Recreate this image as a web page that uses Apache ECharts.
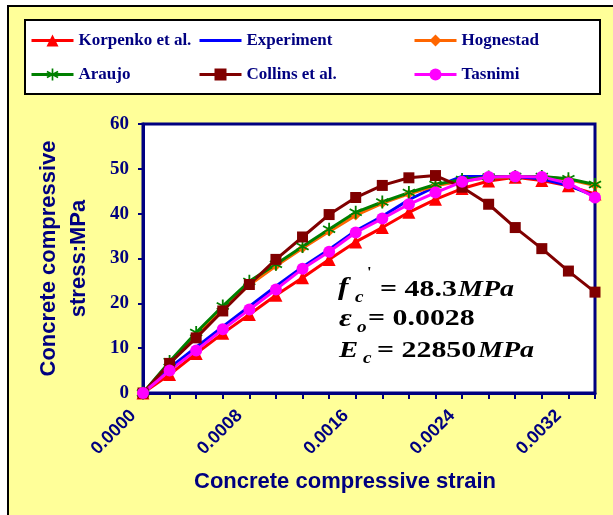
<!DOCTYPE html>
<html>
<head>
<meta charset="utf-8">
<script src="https://cdn.jsdelivr.net/npm/echarts@6/dist/echarts.min.js"></script>
<style>
  html, body { margin: 0; padding: 0; background: #fff; }
  #chart { width: 613px; height: 515px; }
</style>
</head>
<body>
<div id="chart"></div>
<script>
// Strain steps (x) shared by every model curve
const strain = [0, 0.0002, 0.0004, 0.0006, 0.0008, 0.0010, 0.0012, 0.0014, 0.0016,
                0.0018, 0.0020, 0.0022, 0.0024, 0.0026, 0.0028, 0.0030, 0.0032, 0.0034];

// Stress (MPa) for each model
const korpenko   = [0, 4.1, 8.8, 13.3, 17.5, 21.8, 25.7, 29.8, 33.7, 36.9, 40.3, 43.2, 45.6, 47.3, 48.1, 47.4, 46.2, 44.4];
const experiment = [0, 5.6, 10.2, 14.8, 19.3, 23.8, 28.1, 32.0, 36.2, 39.4, 43.1, 46.0, 48.3, 48.3, 48.3, 47.8, 46.3, 43.9];
const hognestad  = [0, 6.6, 12.9, 18.7, 24.1, 28.3, 32.3, 36.0, 39.6, 42.3, 44.4, 46.2, 47.3, 48.0, 48.3, 48.3, 47.6, 46.3];
const araujo     = [0, 7.0, 13.5, 19.4, 24.9, 28.7, 32.7, 36.5, 40.3, 42.6, 44.7, 46.5, 47.6, 48.2, 48.3, 48.3, 47.8, 46.5];
const collins    = [0, 6.6, 12.3, 18.3, 24.2, 29.8, 34.8, 39.8, 43.6, 46.3, 48.0, 48.5, 45.9, 42.1, 36.9, 32.2, 27.2, 22.5];
const tasnimi    = [0, 5.0, 9.5, 14.2, 18.6, 23.1, 27.7, 31.5, 35.8, 38.9, 42.1, 44.7, 47.1, 48.2, 48.3, 48.2, 46.8, 43.6];

// Axis settings
const xMin = 0, xMax = 0.0034, xStep = 0.0002, xLabelStep = 0.0008;
const yMin = 0, yMax = 60, yStep = 10;

const NAVY = '#000080';
const SERIF = '"Liberation Serif", "Times New Roman", serif';
const SANS = '"Liberation Sans", Arial, sans-serif';

const asterisk = 'path://M-1.3,-10L1.3,-10L1.3,10L-1.3,10Z' +
  'M-9.31,-3.87L-8.01,-6.13L9.31,3.87L8.01,6.13Z' +
  'M8.01,-6.13L9.31,-3.87L-8.01,6.13L-9.31,3.87Z';

function pairs(ys) { return strain.map((x, i) => [x, ys[i]]); }

function lineSeries(name, ys, color, symbol, size) {
  return {
    name: name,
    type: 'line',
    data: pairs(ys),
    symbol: symbol,
    symbolSize: size,
    showSymbol: symbol !== 'none',
    lineStyle: { color: color, width: 3 },
    itemStyle: { color: color },
    emphasis: { disabled: true },
    animation: false
  };
}

const chart = echarts.init(document.getElementById('chart'), null, { renderer: 'canvas' });

const legendText = { fontFamily: SERIF, fontWeight: 'bold', fontSize: 17, color: NAVY };
function legendItem(name) {
  if (name === 'Experiment') {
    return { name: name, itemStyle: { color: 'rgba(0,0,0,0)', borderWidth: 0 } };
  }
  return { name: name };
}
function legendCol(left, names) {
  return {
    orient: 'vertical', left: left, top: 32, itemGap: 17, padding: 0,
    itemWidth: 42, itemHeight: 15,
    lineStyle: { width: 3 },
    textStyle: legendText, data: names.map(legendItem), selectedMode: false
  };
}

// Equation pieces shown inside the plot
function eq(text, x, y, size, italic, sx) {
  return {
    type: 'text', x: x, y: y, scaleX: sx || 1.3, z: 10,
    style: {
      text: text, fill: '#000', align: 'left', verticalAlign: 'middle',
      fontFamily: SERIF, fontWeight: 'bold', fontStyle: italic ? 'italic' : 'normal', fontSize: size
    }
  };
}

chart.setOption({
  backgroundColor: '#ffffff',
  animation: false,
  graphic: [
    { type: 'rect', z: -10, shape: { x: 8, y: 6, width: 640, height: 540 },
      style: { fill: '#FFFF99', stroke: '#000', lineWidth: 2 } },
    { type: 'rect', z: -9, shape: { x: 25, y: 20, width: 575, height: 74 },
      style: { fill: '#fff', stroke: '#000', lineWidth: 2 } },
    eq('f', 338, 289, 25, true, 1.25),
    eq('c', 355, 298, 16, true, 1.2),
    eq('\'', 367, 273, 14, false, 1.2),
    eq('= 48.3', 380, 290, 23, false),
    eq('MPa', 458, 290, 23, true, 1.22),
    eq('\u03b5', 339, 320, 25, true, 1.25),
    eq('o', 357, 328, 16, true, 1.2),
    eq('= 0.0028', 368, 319, 23, false),
    eq('E', 339, 351, 23, true, 1.25),
    eq('c', 363, 359, 16, true, 1.2),
    eq('= 22850', 377, 351, 23, false),
    eq('MPa', 478, 351, 23, true, 1.22)
  ],
  legend: [
    legendCol(30, ['Korpenko et al.', 'Araujo']),
    legendCol(198, ['Experiment', 'Collins et al.']),
    legendCol(413, ['Hognestad', 'Tasnimi'])
  ],
  grid: {
    left: 143, right: 18, top: 124, bottom: 122,
    show: true, backgroundColor: '#fff', borderColor: NAVY, borderWidth: 3
  },
  xAxis: {
    type: 'value', min: xMin, max: xMax, interval: xStep,
    name: 'Concrete compressive strain', nameLocation: 'middle', nameGap: 78,
    nameTextStyle: { fontFamily: SANS, fontWeight: 'bold', fontSize: 22, color: NAVY, padding: [0, 48, 0, 0] },
    axisLine: { onZero: false, lineStyle: { color: NAVY, width: 3 } },
    axisTick: { show: true, inside: false, length: 6, lineStyle: { color: NAVY, width: 2 } },
    splitLine: { show: false },
    axisLabel: {
      rotate: 45, margin: 10, padding: [0, 14, 0, 0],
      color: NAVY, fontFamily: SANS, fontWeight: 'bold', fontSize: 18,
      showMinLabel: true, showMaxLabel: true,
      formatter: function (v) {
        const k = Math.round(v / xStep);
        const every = Math.round(xLabelStep / xStep);
        return k % every === 0 ? v.toFixed(4) : '';
      }
    }
  },
  yAxis: {
    type: 'value', min: yMin, max: yMax, interval: yStep,
    name: 'Concrete compressive\nstress:MPa', nameLocation: 'middle', nameRotate: 90, nameGap: 49,
    nameTextStyle: { fontFamily: SANS, fontWeight: 'bold', fontSize: 22, color: NAVY, lineHeight: 30 },
    axisLine: { show: true, lineStyle: { color: NAVY, width: 3 } },
    axisTick: { show: true, inside: false, length: 5, lineStyle: { color: NAVY, width: 2 } },
    splitLine: { show: false },
    axisLabel: { margin: 14, color: NAVY, fontFamily: SERIF, fontWeight: 'bold', fontSize: 19 }
  },
  series: [
    lineSeries('Korpenko et al.', korpenko, '#FF0000', 'triangle', 13),
    lineSeries('Experiment', experiment, '#0000FF', 'none', 0),
    lineSeries('Hognestad', hognestad, '#FF6600', 'diamond', 10),
    lineSeries('Araujo', araujo, '#008000', asterisk, 13),
    lineSeries('Collins et al.', collins, '#800000', 'rect', 11),
    lineSeries('Tasnimi', tasnimi, '#FF00FF', 'circle', 12)
  ]
});
</script>
</body>
</html>
